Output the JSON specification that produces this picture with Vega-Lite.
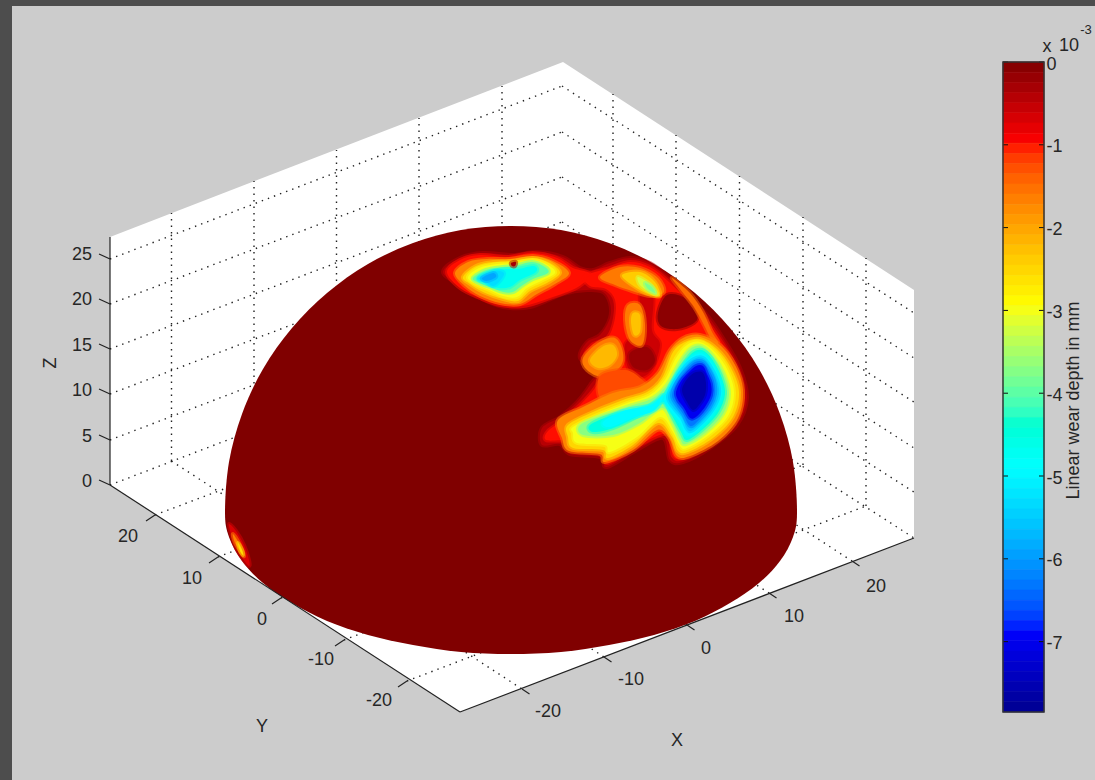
{"$schema":"https://vega.github.io/schema/vega-lite/v6.json","width":1095,"height":780,"padding":0,"autosize":{"type":"none"},"background":"#cccccc","config":{"view":{"stroke":null}},
"datasets":{
"frame":[{"u":0,"u2":1095,"v":0,"v2":6},{"u":0,"u2":12,"v":0,"v2":780}],
"box":[{"u":110,"v":237},{"u":563,"v":62},{"u":914,"v":290},{"u":914,"v":538},{"u":460,"v":712},{"u":110,"v":485}],
"grid":[{"u":110,"v":485,"u2":562,"v2":312},{"u":562,"v":312,"u2":914,"v2":538},{"u":110,"v":440,"u2":562,"v2":267},{"u":562,"v":267,"u2":914,"v2":492},{"u":110,"v":394,"u2":562,"v2":222},{"u":562,"v":222,"u2":914,"v2":448},{"u":110,"v":349,"u2":562,"v2":177},{"u":562,"v":177,"u2":914,"v2":402},{"u":110,"v":304,"u2":562,"v2":132},{"u":562,"v":132,"u2":914,"v2":358},{"u":110,"v":259,"u2":562,"v2":86},{"u":562,"v":86,"u2":914,"v2":313},
{"u":171.5,"v":461,"u2":171.5,"v2":213},{"u":254,"v":429,"u2":254,"v2":181},{"u":336.5,"v":398,"u2":336.5,"v2":150},{"u":419,"v":366,"u2":419,"v2":118},{"u":502,"v":334,"u2":502,"v2":86},
{"u":613,"v":342,"u2":613,"v2":94},{"u":676,"v":383,"u2":676,"v2":135},{"u":739.5,"v":424,"u2":739.5,"v2":176},{"u":803,"v":465,"u2":803,"v2":217},{"u":866,"v":506,"u2":866,"v2":258},
{"u":171.5,"v":461,"u2":522,"v2":689},{"u":254,"v":429,"u2":604,"v2":657},{"u":336.5,"v":398,"u2":687,"v2":625},{"u":419,"v":366,"u2":769,"v2":593},{"u":502,"v":334,"u2":852,"v2":561},
{"u":155,"v":515,"u2":613,"v2":342},{"u":218,"v":557,"u2":676,"v2":383},{"u":281,"v":598,"u2":739.5,"v2":424},{"u":344,"v":640,"u2":803,"v2":465},{"u":407,"v":681,"u2":866,"v2":506}],
"axes":[{"u":110,"v":237,"u2":110,"v2":485},{"u":110,"v":485,"u2":460,"v2":712},{"u":460,"v":712,"u2":914,"v2":538},
{"u":110,"v":259,"u2":99,"v2":254},{"u":110,"v":304,"u2":99,"v2":299},{"u":110,"v":349,"u2":99,"v2":344},{"u":110,"v":394,"u2":99,"v2":389},{"u":110,"v":440,"u2":99,"v2":435},{"u":110,"v":485,"u2":99,"v2":480},
{"u":155,"v":515,"u2":146,"v2":521},{"u":218,"v":557,"u2":209,"v2":563},{"u":281,"v":598,"u2":272,"v2":604},{"u":344,"v":640,"u2":335,"v2":646},{"u":407,"v":681,"u2":398,"v2":687},
{"u":522,"v":689,"u2":529.5,"v2":694},{"u":604,"v":657,"u2":611.5,"v2":662},{"u":687,"v":625,"u2":694.5,"v2":630},{"u":769,"v":593,"u2":776.5,"v2":598},{"u":852,"v":561,"u2":859.5,"v2":566}],
"labels":[{"t":"25","u":82,"v":255},{"t":"20","u":82,"v":300},{"t":"15","u":82,"v":346},{"t":"10","u":82,"v":391},{"t":"5","u":87,"v":437},{"t":"0","u":87,"v":482},
{"t":"20","u":128,"v":537},{"t":"10","u":192,"v":579},{"t":"0","u":262,"v":620},{"t":"-10","u":321,"v":660},{"t":"-20","u":379,"v":701},
{"t":"-20","u":548,"v":712},{"t":"-10","u":631,"v":680},{"t":"0","u":706,"v":649},{"t":"10","u":794,"v":617},{"t":"20","u":876,"v":587},
{"t":"Y","u":262,"v":727},{"t":"X","u":677,"v":741},{"t":"x","u":1047,"v":47},{"t":"10","u":1069,"v":46}],
"exp":[{"t":"-3","u":1086,"v":30}],
"zt":[{"t":"Z","u":51,"v":363}],
"dome":[
{"id":"d","w":0,"u":797,"v":512},{"id":"d","w":0,"u":793,"v":462},{"id":"d","w":0,"u":780,"v":414},{"id":"d","w":0,"u":759,"v":369},{"id":"d","w":0,"u":730,"v":328},{"id":"d","w":0,"u":695,"v":293},{"id":"d","w":0,"u":654,"v":264},{"id":"d","w":0,"u":609,"v":243},{"id":"d","w":0,"u":561,"v":230},{"id":"d","w":0,"u":511,"v":226},{"id":"d","w":0,"u":461,"v":230},{"id":"d","w":0,"u":413,"v":243},{"id":"d","w":0,"u":368,"v":264},{"id":"d","w":0,"u":327,"v":293},{"id":"d","w":0,"u":292,"v":328},{"id":"d","w":0,"u":263,"v":369},{"id":"d","w":0,"u":242,"v":414},{"id":"d","w":0,"u":229,"v":462},{"id":"d","w":0,"u":225,"v":512},{"id":"d","w":0,"u":229,"v":537},{"id":"d","w":0,"u":242,"v":561},{"id":"d","w":0,"u":263,"v":583},{"id":"d","w":0,"u":292,"v":603},{"id":"d","w":0,"u":327,"v":621},{"id":"d","w":0,"u":368,"v":635},{"id":"d","w":0,"u":413,"v":645},{"id":"d","w":0,"u":461,"v":652},{"id":"d","w":0,"u":511,"v":654},{"id":"d","w":0,"u":561,"v":652},{"id":"d","w":0,"u":609,"v":645},{"id":"d","w":0,"u":654,"v":635},{"id":"d","w":0,"u":695,"v":621},{"id":"d","w":0,"u":730,"v":603},{"id":"d","w":0,"u":759,"v":583},{"id":"d","w":0,"u":780,"v":561},{"id":"d","w":0,"u":793,"v":537}],
"surf":[
{"id":"s1","w":-0.7,"u":229,"v":524},{"id":"s1","w":-0.7,"u":236,"v":531},{"id":"s1","w":-0.7,"u":244,"v":545},{"id":"s1","w":-0.7,"u":249,"v":560},{"id":"s1","w":-0.7,"u":249,"v":566},{"id":"s1","w":-0.7,"u":243,"v":559},{"id":"s1","w":-0.7,"u":235,"v":546},{"id":"s1","w":-0.7,"u":231,"v":534},
{"id":"s2","w":-1.7,"u":233,"v":534},{"id":"s2","w":-1.7,"u":240,"v":545},{"id":"s2","w":-1.7,"u":244,"v":556},{"id":"s2","w":-1.7,"u":241,"v":552},{"id":"s2","w":-1.7,"u":235,"v":543},
{"id":"s3","w":-2.6,"u":238,"v":543},{"id":"s3","w":-2.6,"u":242,"v":550},{"id":"s3","w":-2.6,"u":243,"v":555},{"id":"s3","w":-2.6,"u":240,"v":551},
{"id":"p0","w":-0.45,"u":443,"v":272},{"id":"p0","w":-0.45,"u":460,"v":258},{"id":"p0","w":-0.45,"u":483,"v":253},{"id":"p0","w":-0.45,"u":513,"v":255},{"id":"p0","w":-0.45,"u":537,"v":252},{"id":"p0","w":-0.45,"u":563,"v":257},{"id":"p0","w":-0.45,"u":580,"v":268},{"id":"p0","w":-0.45,"u":593,"v":270},{"id":"p0","w":-0.45,"u":610,"v":263},{"id":"p0","w":-0.45,"u":630,"v":258},{"id":"p0","w":-0.45,"u":650,"v":263},{"id":"p0","w":-0.45,"u":670,"v":278},{"id":"p0","w":-0.45,"u":690,"v":298},{"id":"p0","w":-0.45,"u":707,"v":315},{"id":"p0","w":-0.45,"u":723,"v":338},{"id":"p0","w":-0.45,"u":740,"v":368},{"id":"p0","w":-0.45,"u":747,"v":398},{"id":"p0","w":-0.45,"u":737,"v":425},{"id":"p0","w":-0.45,"u":710,"v":448},{"id":"p0","w":-0.45,"u":683,"v":462},{"id":"p0","w":-0.45,"u":670,"v":460},{"id":"p0","w":-0.45,"u":663,"v":438},{"id":"p0","w":-0.45,"u":637,"v":450},{"id":"p0","w":-0.45,"u":607,"v":467},{"id":"p0","w":-0.45,"u":600,"v":457},{"id":"p0","w":-0.45,"u":570,"v":454},{"id":"p0","w":-0.45,"u":560,"v":444},{"id":"p0","w":-0.45,"u":542,"v":445},{"id":"p0","w":-0.45,"u":542,"v":428},{"id":"p0","w":-0.45,"u":560,"v":417},{"id":"p0","w":-0.45,"u":577,"v":402},{"id":"p0","w":-0.45,"u":590,"v":385},{"id":"p0","w":-0.45,"u":597,"v":372},{"id":"p0","w":-0.45,"u":580,"v":358},{"id":"p0","w":-0.45,"u":587,"v":342},{"id":"p0","w":-0.45,"u":600,"v":335},{"id":"p0","w":-0.45,"u":610,"v":318},{"id":"p0","w":-0.45,"u":610,"v":303},{"id":"p0","w":-0.45,"u":603,"v":292},{"id":"p0","w":-0.45,"u":587,"v":290},{"id":"p0","w":-0.45,"u":563,"v":294},{"id":"p0","w":-0.45,"u":530,"v":307},{"id":"p0","w":-0.45,"u":503,"v":307},{"id":"p0","w":-0.45,"u":480,"v":298},{"id":"p0","w":-0.45,"u":460,"v":285},
{"id":"t1","w":-1,"u":447,"v":272},{"id":"t1","w":-1,"u":460,"v":260},{"id":"t1","w":-1,"u":480,"v":255},{"id":"t1","w":-1,"u":507,"v":257},{"id":"t1","w":-1,"u":533,"v":253},{"id":"t1","w":-1,"u":557,"v":258},{"id":"t1","w":-1,"u":573,"v":268},{"id":"t1","w":-1,"u":590,"v":274},{"id":"t1","w":-1,"u":578,"v":287},{"id":"t1","w":-1,"u":550,"v":298},{"id":"t1","w":-1,"u":523,"v":306},{"id":"t1","w":-1,"u":500,"v":305},{"id":"t1","w":-1,"u":480,"v":298},{"id":"t1","w":-1,"u":460,"v":288},
{"id":"r1","w":-1,"u":585,"v":276},{"id":"r1","w":-1,"u":610,"v":268},{"id":"r1","w":-1,"u":630,"v":262},{"id":"r1","w":-1,"u":650,"v":267},{"id":"r1","w":-1,"u":668,"v":281},{"id":"r1","w":-1,"u":687,"v":300},{"id":"r1","w":-1,"u":704,"v":318},{"id":"r1","w":-1,"u":720,"v":340},{"id":"r1","w":-1,"u":736,"v":368},{"id":"r1","w":-1,"u":743,"v":398},{"id":"r1","w":-1,"u":733,"v":423},{"id":"r1","w":-1,"u":707,"v":444},{"id":"r1","w":-1,"u":683,"v":458},{"id":"r1","w":-1,"u":673,"v":456},{"id":"r1","w":-1,"u":667,"v":434},{"id":"r1","w":-1,"u":637,"v":446},{"id":"r1","w":-1,"u":608,"v":463},{"id":"r1","w":-1,"u":602,"v":453},{"id":"r1","w":-1,"u":572,"v":450},{"id":"r1","w":-1,"u":565,"v":441},{"id":"r1","w":-1,"u":546,"v":440},{"id":"r1","w":-1,"u":548,"v":431},{"id":"r1","w":-1,"u":563,"v":420},{"id":"r1","w":-1,"u":580,"v":405},{"id":"r1","w":-1,"u":595,"v":388},{"id":"r1","w":-1,"u":602,"v":372},{"id":"r1","w":-1,"u":585,"v":358},{"id":"r1","w":-1,"u":592,"v":345},{"id":"r1","w":-1,"u":608,"v":337},{"id":"r1","w":-1,"u":615,"v":318},{"id":"r1","w":-1,"u":615,"v":300},{"id":"r1","w":-1,"u":606,"v":289},{"id":"r1","w":-1,"u":590,"v":286},
{"id":"h3","w":-0.6,"u":640,"v":294},{"id":"h3","w":-0.6,"u":653,"v":296},{"id":"h3","w":-0.6,"u":652,"v":330},{"id":"h3","w":-0.6,"u":660,"v":345},{"id":"h3","w":-0.6,"u":650,"v":372},{"id":"h3","w":-0.6,"u":632,"v":376},{"id":"h3","w":-0.6,"u":625,"v":345},{"id":"h3","w":-0.6,"u":642,"v":330},
{"id":"h1","w":-0.1,"u":667,"v":295},{"id":"h1","w":-0.1,"u":685,"v":298},{"id":"h1","w":-0.1,"u":697,"v":314},{"id":"h1","w":-0.1,"u":694,"v":323},{"id":"h1","w":-0.1,"u":677,"v":329},{"id":"h1","w":-0.1,"u":661,"v":326},{"id":"h1","w":-0.1,"u":658,"v":313},
{"id":"h2","w":-0.2,"u":630,"v":353},{"id":"h2","w":-0.2,"u":647,"v":347},{"id":"h2","w":-0.2,"u":655,"v":360},{"id":"h2","w":-0.2,"u":647,"v":370},{"id":"h2","w":-0.2,"u":633,"v":367},
{"id":"t2","w":-1.7,"u":455,"v":273},{"id":"t2","w":-1.7,"u":468,"v":262},{"id":"t2","w":-1.7,"u":487,"v":259},{"id":"t2","w":-1.7,"u":510,"v":259},{"id":"t2","w":-1.7,"u":533,"v":256},{"id":"t2","w":-1.7,"u":553,"v":261},{"id":"t2","w":-1.7,"u":569,"v":273},{"id":"t2","w":-1.7,"u":555,"v":284},{"id":"t2","w":-1.7,"u":537,"v":294},{"id":"t2","w":-1.7,"u":520,"v":304},{"id":"t2","w":-1.7,"u":500,"v":303},{"id":"t2","w":-1.7,"u":480,"v":296},{"id":"t2","w":-1.7,"u":465,"v":286},
{"id":"t3","w":-2.5,"u":463,"v":277},{"id":"t3","w":-2.5,"u":476,"v":266},{"id":"t3","w":-2.5,"u":493,"v":262},{"id":"t3","w":-2.5,"u":512,"v":261},{"id":"t3","w":-2.5,"u":533,"v":258},{"id":"t3","w":-2.5,"u":550,"v":263},{"id":"t3","w":-2.5,"u":560,"v":273},{"id":"t3","w":-2.5,"u":547,"v":283},{"id":"t3","w":-2.5,"u":530,"v":291},{"id":"t3","w":-2.5,"u":518,"v":301},{"id":"t3","w":-2.5,"u":503,"v":299},{"id":"t3","w":-2.5,"u":483,"v":292},{"id":"t3","w":-2.5,"u":470,"v":284},
{"id":"t4","w":-3,"u":468,"v":277},{"id":"t4","w":-3,"u":479,"v":268},{"id":"t4","w":-3,"u":497,"v":264},{"id":"t4","w":-3,"u":513,"v":263},{"id":"t4","w":-3,"u":533,"v":260},{"id":"t4","w":-3,"u":548,"v":265},{"id":"t4","w":-3,"u":555,"v":273},{"id":"t4","w":-3,"u":541,"v":281},{"id":"t4","w":-3,"u":527,"v":288},{"id":"t4","w":-3,"u":517,"v":297},{"id":"t4","w":-3,"u":503,"v":296},{"id":"t4","w":-3,"u":487,"v":289},{"id":"t4","w":-3,"u":474,"v":283},
{"id":"t5","w":-4,"u":473,"v":278},{"id":"t5","w":-4,"u":486,"v":270},{"id":"t5","w":-4,"u":503,"v":267},{"id":"t5","w":-4,"u":515,"v":266},{"id":"t5","w":-4,"u":532,"v":262},{"id":"t5","w":-4,"u":545,"v":267},{"id":"t5","w":-4,"u":548,"v":273},{"id":"t5","w":-4,"u":533,"v":279},{"id":"t5","w":-4,"u":523,"v":285},{"id":"t5","w":-4,"u":513,"v":292},{"id":"t5","w":-4,"u":503,"v":292},{"id":"t5","w":-4,"u":490,"v":287},{"id":"t5","w":-4,"u":479,"v":283},
{"id":"t6","w":-4.7,"u":478,"v":278},{"id":"t6","w":-4.7,"u":493,"v":271},{"id":"t6","w":-4.7,"u":507,"v":269},{"id":"t6","w":-4.7,"u":518,"v":269},{"id":"t6","w":-4.7,"u":534,"v":266},{"id":"t6","w":-4.7,"u":536,"v":272},{"id":"t6","w":-4.7,"u":520,"v":280},{"id":"t6","w":-4.7,"u":510,"v":287},{"id":"t6","w":-4.7,"u":498,"v":288},{"id":"t6","w":-4.7,"u":485,"v":283},
{"id":"t7","w":-5.3,"u":479,"v":278},{"id":"t7","w":-5.3,"u":495,"v":271},{"id":"t7","w":-5.3,"u":504,"v":273},{"id":"t7","w":-5.3,"u":500,"v":281},{"id":"t7","w":-5.3,"u":493,"v":286},{"id":"t7","w":-5.3,"u":485,"v":281},
{"id":"t8","w":-5.9,"u":482,"v":278},{"id":"t8","w":-5.9,"u":493,"v":273},{"id":"t8","w":-5.9,"u":496,"v":277},{"id":"t8","w":-5.9,"u":487,"v":281},
{"id":"t9","w":-0.3,"u":511,"v":263},{"id":"t9","w":-0.3,"u":516,"v":262},{"id":"t9","w":-0.3,"u":515,"v":266},{"id":"t9","w":-0.3,"u":512,"v":266},
{"id":"m1","w":-1.6,"u":600,"v":277},{"id":"m1","w":-1.6,"u":620,"v":267},{"id":"m1","w":-1.6,"u":640,"v":268},{"id":"m1","w":-1.6,"u":658,"v":278},{"id":"m1","w":-1.6,"u":664,"v":292},{"id":"m1","w":-1.6,"u":650,"v":296},{"id":"m1","w":-1.6,"u":632,"v":291},{"id":"m1","w":-1.6,"u":615,"v":285},
{"id":"m2","w":-2.4,"u":622,"v":275},{"id":"m2","w":-2.4,"u":640,"v":272},{"id":"m2","w":-2.4,"u":655,"v":282},{"id":"m2","w":-2.4,"u":660,"v":296},{"id":"m2","w":-2.4,"u":648,"v":294},{"id":"m2","w":-2.4,"u":632,"v":285},
{"id":"m3","w":-3.2,"u":638,"v":277},{"id":"m3","w":-3.2,"u":650,"v":284},{"id":"m3","w":-3.2,"u":657,"v":294},{"id":"m3","w":-3.2,"u":650,"v":292},{"id":"m3","w":-3.2,"u":640,"v":285},
{"id":"m4","w":-3.8,"u":645,"v":283},{"id":"m4","w":-3.8,"u":652,"v":287},{"id":"m4","w":-3.8,"u":655,"v":293},{"id":"m4","w":-3.8,"u":648,"v":289},
{"id":"n1","w":-1.6,"u":628,"v":305},{"id":"n1","w":-1.6,"u":640,"v":305},{"id":"n1","w":-1.6,"u":645,"v":325},{"id":"n1","w":-1.6,"u":642,"v":345},{"id":"n1","w":-1.6,"u":630,"v":340},{"id":"n1","w":-1.6,"u":625,"v":320},
{"id":"n2","w":-2.3,"u":633,"v":313},{"id":"n2","w":-2.3,"u":640,"v":315},{"id":"n2","w":-2.3,"u":640,"v":332},{"id":"n2","w":-2.3,"u":634,"v":335},{"id":"n2","w":-2.3,"u":631,"v":322},
{"id":"l1","w":-1.5,"u":672,"v":278},{"id":"l1","w":-1.5,"u":690,"v":293},{"id":"l1","w":-1.5,"u":703,"v":312},{"id":"l1","w":-1.5,"u":712,"v":332},{"id":"l1","w":-1.5,"u":718,"v":342},{"id":"l1","w":-1.5,"u":714,"v":345},{"id":"l1","w":-1.5,"u":705,"v":327},{"id":"l1","w":-1.5,"u":694,"v":307},{"id":"l1","w":-1.5,"u":680,"v":289},
{"id":"o1","w":-1.6,"u":583,"v":358},{"id":"o1","w":-1.6,"u":598,"v":343},{"id":"o1","w":-1.6,"u":615,"v":338},{"id":"o1","w":-1.6,"u":623,"v":353},{"id":"o1","w":-1.6,"u":620,"v":367},{"id":"o1","w":-1.6,"u":603,"v":377},{"id":"o1","w":-1.6,"u":587,"v":370},
{"id":"o2","w":-2.2,"u":590,"v":360},{"id":"o2","w":-2.2,"u":602,"v":347},{"id":"o2","w":-2.2,"u":613,"v":345},{"id":"o2","w":-2.2,"u":617,"v":355},{"id":"o2","w":-2.2,"u":610,"v":365},{"id":"o2","w":-2.2,"u":598,"v":368},
{"id":"o3","w":-1.25,"u":600,"v":376},{"id":"o3","w":-1.25,"u":625,"v":370},{"id":"o3","w":-1.25,"u":640,"v":378},{"id":"o3","w":-1.25,"u":645,"v":387},{"id":"o3","w":-1.25,"u":615,"v":395},{"id":"o3","w":-1.25,"u":600,"v":398},
{"id":"b1","w":-1.7,"u":558,"v":420},{"id":"b1","w":-1.7,"u":583,"v":407},{"id":"b1","w":-1.7,"u":613,"v":393},{"id":"b1","w":-1.7,"u":640,"v":387},{"id":"b1","w":-1.7,"u":658,"v":373},{"id":"b1","w":-1.7,"u":670,"v":350},{"id":"b1","w":-1.7,"u":683,"v":338},{"id":"b1","w":-1.7,"u":700,"v":335},{"id":"b1","w":-1.7,"u":720,"v":345},{"id":"b1","w":-1.7,"u":735,"v":365},{"id":"b1","w":-1.7,"u":743,"v":390},{"id":"b1","w":-1.7,"u":738,"v":418},{"id":"b1","w":-1.7,"u":718,"v":441},{"id":"b1","w":-1.7,"u":690,"v":456},{"id":"b1","w":-1.7,"u":677,"v":456},{"id":"b1","w":-1.7,"u":669,"v":438},{"id":"b1","w":-1.7,"u":657,"v":430},{"id":"b1","w":-1.7,"u":633,"v":450},{"id":"b1","w":-1.7,"u":605,"v":462},{"id":"b1","w":-1.7,"u":600,"v":454},{"id":"b1","w":-1.7,"u":569,"v":451},{"id":"b1","w":-1.7,"u":562,"v":438},
{"id":"b2","w":-2.5,"u":568,"v":425},{"id":"b2","w":-2.5,"u":593,"v":412},{"id":"b2","w":-2.5,"u":623,"v":400},{"id":"b2","w":-2.5,"u":647,"v":392},{"id":"b2","w":-2.5,"u":662,"v":378},{"id":"b2","w":-2.5,"u":673,"v":352},{"id":"b2","w":-2.5,"u":685,"v":342},{"id":"b2","w":-2.5,"u":700,"v":339},{"id":"b2","w":-2.5,"u":717,"v":349},{"id":"b2","w":-2.5,"u":731,"v":368},{"id":"b2","w":-2.5,"u":739,"v":392},{"id":"b2","w":-2.5,"u":733,"v":417},{"id":"b2","w":-2.5,"u":713,"v":438},{"id":"b2","w":-2.5,"u":688,"v":452},{"id":"b2","w":-2.5,"u":678,"v":451},{"id":"b2","w":-2.5,"u":672,"v":437},{"id":"b2","w":-2.5,"u":658,"v":423},{"id":"b2","w":-2.5,"u":633,"v":445},{"id":"b2","w":-2.5,"u":608,"v":458},{"id":"b2","w":-2.5,"u":603,"v":450},{"id":"b2","w":-2.5,"u":573,"v":448},{"id":"b2","w":-2.5,"u":568,"v":437},
{"id":"b3","w":-3,"u":573,"v":427},{"id":"b3","w":-3,"u":597,"v":415},{"id":"b3","w":-3,"u":627,"v":403},{"id":"b3","w":-3,"u":650,"v":395},{"id":"b3","w":-3,"u":665,"v":380},{"id":"b3","w":-3,"u":676,"v":358},{"id":"b3","w":-3,"u":687,"v":345},{"id":"b3","w":-3,"u":700,"v":342},{"id":"b3","w":-3,"u":715,"v":352},{"id":"b3","w":-3,"u":728,"v":371},{"id":"b3","w":-3,"u":734,"v":393},{"id":"b3","w":-3,"u":728,"v":416},{"id":"b3","w":-3,"u":709,"v":435},{"id":"b3","w":-3,"u":687,"v":448},{"id":"b3","w":-3,"u":680,"v":446},{"id":"b3","w":-3,"u":673,"v":432},{"id":"b3","w":-3,"u":660,"v":417},{"id":"b3","w":-3,"u":637,"v":437},{"id":"b3","w":-3,"u":610,"v":452},{"id":"b3","w":-3,"u":605,"v":445},{"id":"b3","w":-3,"u":577,"v":443},{"id":"b3","w":-3,"u":573,"v":433},
{"id":"b4","w":-3.7,"u":580,"v":425},{"id":"b4","w":-3.7,"u":603,"v":415},{"id":"b4","w":-3.7,"u":633,"v":405},{"id":"b4","w":-3.7,"u":653,"v":398},{"id":"b4","w":-3.7,"u":667,"v":385},{"id":"b4","w":-3.7,"u":680,"v":362},{"id":"b4","w":-3.7,"u":690,"v":349},{"id":"b4","w":-3.7,"u":701,"v":346},{"id":"b4","w":-3.7,"u":713,"v":356},{"id":"b4","w":-3.7,"u":724,"v":374},{"id":"b4","w":-3.7,"u":729,"v":394},{"id":"b4","w":-3.7,"u":723,"v":414},{"id":"b4","w":-3.7,"u":705,"v":433},{"id":"b4","w":-3.7,"u":686,"v":444},{"id":"b4","w":-3.7,"u":680,"v":439},{"id":"b4","w":-3.7,"u":672,"v":422},{"id":"b4","w":-3.7,"u":662,"v":408},{"id":"b4","w":-3.7,"u":640,"v":423},{"id":"b4","w":-3.7,"u":613,"v":435},{"id":"b4","w":-3.7,"u":583,"v":435},
{"id":"b5","w":-4.5,"u":590,"v":425},{"id":"b5","w":-4.5,"u":613,"v":415},{"id":"b5","w":-4.5,"u":637,"v":410},{"id":"b5","w":-4.5,"u":655,"v":403},{"id":"b5","w":-4.5,"u":667,"v":392},{"id":"b5","w":-4.5,"u":681,"v":368},{"id":"b5","w":-4.5,"u":692,"v":353},{"id":"b5","w":-4.5,"u":702,"v":350},{"id":"b5","w":-4.5,"u":712,"v":359},{"id":"b5","w":-4.5,"u":721,"v":376},{"id":"b5","w":-4.5,"u":725,"v":394},{"id":"b5","w":-4.5,"u":718,"v":413},{"id":"b5","w":-4.5,"u":702,"v":430},{"id":"b5","w":-4.5,"u":687,"v":440},{"id":"b5","w":-4.5,"u":681,"v":432},{"id":"b5","w":-4.5,"u":670,"v":412},{"id":"b5","w":-4.5,"u":663,"v":402},{"id":"b5","w":-4.5,"u":640,"v":415},{"id":"b5","w":-4.5,"u":613,"v":428},{"id":"b5","w":-4.5,"u":593,"v":432},
{"id":"c1","w":-4.95,"u":603,"v":422},{"id":"c1","w":-4.95,"u":623,"v":411},{"id":"c1","w":-4.95,"u":650,"v":405},{"id":"c1","w":-4.95,"u":663,"v":395},{"id":"c1","w":-4.95,"u":655,"v":410},{"id":"c1","w":-4.95,"u":633,"v":418},{"id":"c1","w":-4.95,"u":610,"v":427},
{"id":"e1","w":-5,"u":664,"v":400},{"id":"e1","w":-5,"u":671,"v":384},{"id":"e1","w":-5,"u":682,"v":366},{"id":"e1","w":-5,"u":693,"v":356},{"id":"e1","w":-5,"u":703,"v":354},{"id":"e1","w":-5,"u":711,"v":362},{"id":"e1","w":-5,"u":719,"v":377},{"id":"e1","w":-5,"u":722,"v":394},{"id":"e1","w":-5,"u":715,"v":411},{"id":"e1","w":-5,"u":701,"v":427},{"id":"e1","w":-5,"u":687,"v":436},{"id":"e1","w":-5,"u":680,"v":422},{"id":"e1","w":-5,"u":670,"v":410},
{"id":"e2","w":-5.6,"u":668,"v":397},{"id":"e2","w":-5.6,"u":674,"v":383},{"id":"e2","w":-5.6,"u":684,"v":368},{"id":"e2","w":-5.6,"u":694,"v":359},{"id":"e2","w":-5.6,"u":703,"v":358},{"id":"e2","w":-5.6,"u":710,"v":366},{"id":"e2","w":-5.6,"u":717,"v":380},{"id":"e2","w":-5.6,"u":719,"v":394},{"id":"e2","w":-5.6,"u":713,"v":409},{"id":"e2","w":-5.6,"u":700,"v":424},{"id":"e2","w":-5.6,"u":689,"v":431},{"id":"e2","w":-5.6,"u":682,"v":418},{"id":"e2","w":-5.6,"u":673,"v":407},
{"id":"e3","w":-6.3,"u":672,"v":395},{"id":"e3","w":-6.3,"u":677,"v":382},{"id":"e3","w":-6.3,"u":686,"v":370},{"id":"e3","w":-6.3,"u":695,"v":362},{"id":"e3","w":-6.3,"u":703,"v":362},{"id":"e3","w":-6.3,"u":709,"v":370},{"id":"e3","w":-6.3,"u":714,"v":381},{"id":"e3","w":-6.3,"u":715,"v":394},{"id":"e3","w":-6.3,"u":710,"v":407},{"id":"e3","w":-6.3,"u":698,"v":421},{"id":"e3","w":-6.3,"u":690,"v":426},{"id":"e3","w":-6.3,"u":683,"v":414},{"id":"e3","w":-6.3,"u":676,"v":404},
{"id":"e4","w":-7,"u":676,"v":392},{"id":"e4","w":-7,"u":681,"v":381},{"id":"e4","w":-7,"u":688,"v":373},{"id":"e4","w":-7,"u":696,"v":366},{"id":"e4","w":-7,"u":703,"v":366},{"id":"e4","w":-7,"u":707,"v":374},{"id":"e4","w":-7,"u":711,"v":384},{"id":"e4","w":-7,"u":711,"v":395},{"id":"e4","w":-7,"u":705,"v":407},{"id":"e4","w":-7,"u":696,"v":417},{"id":"e4","w":-7,"u":690,"v":418},{"id":"e4","w":-7,"u":684,"v":408},{"id":"e4","w":-7,"u":678,"v":400},
{"id":"e5","w":-7.6,"u":682,"v":390},{"id":"e5","w":-7.6,"u":688,"v":378},{"id":"e5","w":-7.6,"u":696,"v":372},{"id":"e5","w":-7.6,"u":703,"v":373},{"id":"e5","w":-7.6,"u":706,"v":383},{"id":"e5","w":-7.6,"u":705,"v":395},{"id":"e5","w":-7.6,"u":699,"v":405},{"id":"e5","w":-7.6,"u":693,"v":410},{"id":"e5","w":-7.6,"u":687,"v":402}
],
"bands":[{"hi":0,"lo":-0.123,"w":-0.061},{"hi":-0.123,"lo":-0.245,"w":-0.184},{"hi":-0.245,"lo":-0.368,"w":-0.307},{"hi":-0.368,"lo":-0.491,"w":-0.429},{"hi":-0.491,"lo":-0.613,"w":-0.552},{"hi":-0.613,"lo":-0.736,"w":-0.675},{"hi":-0.736,"lo":-0.859,"w":-0.797},{"hi":-0.859,"lo":-0.981,"w":-0.92},{"hi":-0.981,"lo":-1.104,"w":-1.043},{"hi":-1.104,"lo":-1.227,"w":-1.165},{"hi":-1.227,"lo":-1.349,"w":-1.288},{"hi":-1.349,"lo":-1.472,"w":-1.411},{"hi":-1.472,"lo":-1.595,"w":-1.533},{"hi":-1.595,"lo":-1.717,"w":-1.656},{"hi":-1.717,"lo":-1.84,"w":-1.779},{"hi":-1.84,"lo":-1.963,"w":-1.901},{"hi":-1.963,"lo":-2.085,"w":-2.024},{"hi":-2.085,"lo":-2.208,"w":-2.147},{"hi":-2.208,"lo":-2.331,"w":-2.269},{"hi":-2.331,"lo":-2.453,"w":-2.392},{"hi":-2.453,"lo":-2.576,"w":-2.515},{"hi":-2.576,"lo":-2.699,"w":-2.637},{"hi":-2.699,"lo":-2.821,"w":-2.76},{"hi":-2.821,"lo":-2.944,"w":-2.883},{"hi":-2.944,"lo":-3.066,"w":-3.005},{"hi":-3.066,"lo":-3.189,"w":-3.128},{"hi":-3.189,"lo":-3.312,"w":-3.25},{"hi":-3.312,"lo":-3.434,"w":-3.373},{"hi":-3.434,"lo":-3.557,"w":-3.496},{"hi":-3.557,"lo":-3.68,"w":-3.618},{"hi":-3.68,"lo":-3.802,"w":-3.741},{"hi":-3.802,"lo":-3.925,"w":-3.864},{"hi":-3.925,"lo":-4.048,"w":-3.986},{"hi":-4.048,"lo":-4.17,"w":-4.109},{"hi":-4.17,"lo":-4.293,"w":-4.232},{"hi":-4.293,"lo":-4.416,"w":-4.354},{"hi":-4.416,"lo":-4.538,"w":-4.477},{"hi":-4.538,"lo":-4.661,"w":-4.6},{"hi":-4.661,"lo":-4.784,"w":-4.722},{"hi":-4.784,"lo":-4.906,"w":-4.845},{"hi":-4.906,"lo":-5.029,"w":-4.968},{"hi":-5.029,"lo":-5.152,"w":-5.09},{"hi":-5.152,"lo":-5.274,"w":-5.213},{"hi":-5.274,"lo":-5.397,"w":-5.336},{"hi":-5.397,"lo":-5.52,"w":-5.458},{"hi":-5.52,"lo":-5.642,"w":-5.581},{"hi":-5.642,"lo":-5.765,"w":-5.704},{"hi":-5.765,"lo":-5.888,"w":-5.826},{"hi":-5.888,"lo":-6.01,"w":-5.949},{"hi":-6.01,"lo":-6.133,"w":-6.072},{"hi":-6.133,"lo":-6.256,"w":-6.194},{"hi":-6.256,"lo":-6.378,"w":-6.317},{"hi":-6.378,"lo":-6.501,"w":-6.44},{"hi":-6.501,"lo":-6.624,"w":-6.562},{"hi":-6.624,"lo":-6.746,"w":-6.685},{"hi":-6.746,"lo":-6.869,"w":-6.808},{"hi":-6.869,"lo":-6.991,"w":-6.93},{"hi":-6.991,"lo":-7.114,"w":-7.053},{"hi":-7.114,"lo":-7.237,"w":-7.175},{"hi":-7.237,"lo":-7.359,"w":-7.298},{"hi":-7.359,"lo":-7.482,"w":-7.421},{"hi":-7.482,"lo":-7.605,"w":-7.543},{"hi":-7.605,"lo":-7.727,"w":-7.666},{"hi":-7.727,"lo":-7.85,"w":-7.789}],
"cticks":[{"w":0},{"w":-1},{"w":-2},{"w":-3},{"w":-4},{"w":-5},{"w":-6},{"w":-7}]
},
"layer":[
{"encoding":{"x":{"field":"u","type":"quantitative","scale":{"domain":[0,1095],"nice":false,"zero":false},"axis":null},"y":{"field":"v","type":"quantitative","scale":{"domain":[780,0],"nice":false,"zero":false},"axis":null}},
"layer":[
{"data":{"name":"frame"},"mark":{"type":"rect","fill":"#4d4d4d"},"encoding":{"x2":{"field":"u2"},"y2":{"field":"v2"}}},
{"data":{"name":"box"},"mark":{"type":"line","filled":true,"fill":"#ffffff","interpolate":"linear-closed"},"encoding":{"order":{"value":null}}},
{"data":{"name":"grid"},"mark":{"type":"rule","color":"#222222","strokeWidth":1.4,"strokeDash":[1.4,5.1]},"encoding":{"x2":{"field":"u2"},"y2":{"field":"v2"}}},
{"data":{"name":"dome"},"mark":{"type":"line","filled":true,"fill":"#800000","interpolate":"cardinal-closed"},"encoding":{"order":{"value":null}}},
{"data":{"name":"surf"},"mark":{"type":"line","filled":true,"interpolate":"cardinal-closed","strokeWidth":4,"strokeOpacity":0.5},"encoding":{"detail":{"field":"id","type":"nominal"},"order":{"value":null},"color":{"field":"w","type":"quantitative","legend":null,"scale":{"domain":[-7.85,-6.87,-4.91,-2.94,-0.98,0],"range":["#000090","#0000ff","#00ffff","#ffff00","#ff0000","#800000"]}},"stroke":{"field":"w","type":"quantitative","legend":null,"scale":{"domain":[-7.85,-6.87,-4.91,-2.94,-0.98,0],"range":["#000090","#0000ff","#00ffff","#ffff00","#ff0000","#800000"]}}}},
{"data":{"name":"axes"},"mark":{"type":"rule","color":"#222222","strokeWidth":1.2},"encoding":{"x2":{"field":"u2"},"y2":{"field":"v2"}}},
{"data":{"name":"labels"},"mark":{"type":"text","font":"Liberation Sans","fontSize":18,"color":"#262626","align":"center","baseline":"middle"},"encoding":{"text":{"field":"t"}}},
{"data":{"name":"exp"},"mark":{"type":"text","font":"Liberation Sans","fontSize":13,"color":"#262626","align":"center","baseline":"middle"},"encoding":{"text":{"field":"t"}}},
{"data":{"name":"zt"},"mark":{"type":"text","font":"Liberation Sans","fontSize":18,"color":"#262626","align":"center","baseline":"middle","angle":270},"encoding":{"text":{"field":"t"}}}
]},
{"layer":[
{"data":{"name":"bands"},"mark":{"type":"rect","strokeWidth":0.6},"encoding":{"x":{"datum":1003,"type":"quantitative","scale":{"domain":[0,1095],"nice":false,"zero":false},"axis":null},"x2":{"datum":1044},"y":{"field":"hi","type":"quantitative","scale":{"domain":[-7.85,0],"range":[712,62],"nice":false,"zero":false},"axis":{"orient":"right","offset":-51,"values":[0,-1,-2,-3,-4,-5,-6,-7],"labelExpr":"datum.value==0?'0':'-'+abs(datum.value)","ticks":false,"domain":false,"grid":false,"labelFont":"Liberation Sans","labelFontSize":18,"labelColor":"#262626","labelPadding":2,"labelOffset":2,"title":"Linear wear depth in mm","titleFont":"Liberation Sans","titleFontSize":18,"titleFontWeight":"normal","titleColor":"#262626","titleAngle":270,"titleX":38,"titleY":400}},"y2":{"field":"lo"},"color":{"field":"w","type":"quantitative","legend":null,"scale":{"domain":[-7.85,-6.87,-4.91,-2.94,-0.98,0],"range":["#000090","#0000ff","#00ffff","#ffff00","#ff0000","#800000"]}},"stroke":{"field":"w","type":"quantitative","legend":null,"scale":{"domain":[-7.85,-6.87,-4.91,-2.94,-0.98,0],"range":["#000090","#0000ff","#00ffff","#ffff00","#ff0000","#800000"]}}}},
{"data":{"name":"cticks"},"mark":{"type":"rule","color":"#111111","strokeWidth":1},"encoding":{"x":{"datum":1003,"type":"quantitative"},"x2":{"datum":1008},"y":{"field":"w","type":"quantitative"}}},
{"data":{"name":"cticks"},"mark":{"type":"rule","color":"#111111","strokeWidth":1},"encoding":{"x":{"datum":1039,"type":"quantitative"},"x2":{"datum":1044},"y":{"field":"w","type":"quantitative"}}},
{"data":{"values":[{"a":0,"b":-7.85}]},"mark":{"type":"rect","fill":null,"stroke":"#333333","strokeWidth":1.5},"encoding":{"x":{"datum":1003,"type":"quantitative"},"x2":{"datum":1044},"y":{"field":"b","type":"quantitative"},"y2":{"field":"a"}}}
]}
],
"resolve":{"scale":{"y":"independent"}}}
